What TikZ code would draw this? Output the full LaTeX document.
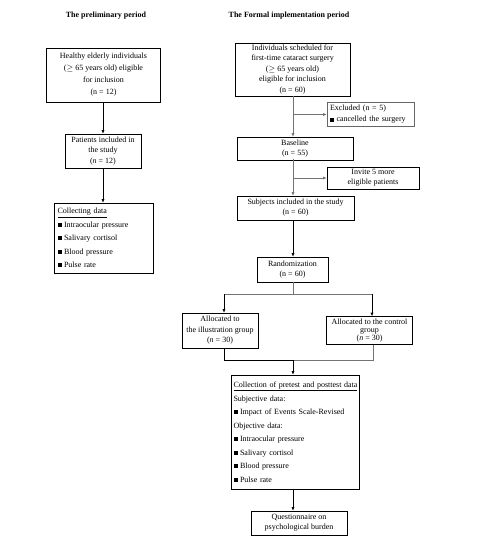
\documentclass[tikz,border=0pt]{standalone}
\usepackage{fontspec}
\setmainfont{Liberation Serif}
\usetikzlibrary{arrows.meta}
\newcommand{\sq}{\rule[0.3pt]{4pt}{4pt}\hspace{2.5pt}}
\begin{document}
\begin{tikzpicture}[x=1pt,y=-1pt,
  box/.style={draw=black, line width=0.6pt, inner sep=0pt, align=center,
    font=\fontsize{8}{12}\selectfont},
  lbox/.style={draw=black, line width=0.6pt, inner xsep=3pt, inner ysep=0pt, align=left,
    font=\fontsize{8}{13.5}\selectfont},
  ttl/.style={font=\fontsize{8}{9}\selectfont\bfseries},
  con/.style={line width=0.6pt, draw=black},
  gcon/.style={line width=0.6pt, draw=black!55},
  arr/.style={-{Latex[length=3.5pt,width=3pt]}}]
\useasboundingbox (0,0) rectangle (487,545);
\node[ttl] (t1) at (106,16) {The preliminary period};
\node[ttl] (t2) at (289,16) {The Formal implementation period};
% left column
\node[box, minimum width=114, minimum height=54] (L1) at (103.5,75)
  {Healthy elderly individuals\\ ({$\geq$} 65 years old) eligible\\ for inclusion\\ (n = 12)};
\node[box, minimum width=76, minimum height=34, font=\fontsize{8}{10.5}\selectfont] (L2) at (103,151)
  {Patients included in\\ the study\\ (\textit{n} = 12)};
\node[lbox, text width=93, minimum height=70] (L3) at (104,238)
  {\underline{Collecting data}\\ \sq Intraocular pressure\\ \sq Salivary cortisol\\ \sq Blood pressure\\ \sq Pulse rate};
\coordinate (lx) at (103,0);
\draw[con, arr] (L1.south -| lx) -- (L2.north -| lx);
\draw[con, arr] (L2.south -| lx) -- (L3.north -| lx);
% right column
\node[box, minimum width=115, minimum height=53, font=\fontsize{8}{10.5}\selectfont] (R1) at (292.5,69.5)
  {Individuals scheduled for\\ first-time cataract surgery\\ ({$\geq$} 65 years old)\\ eligible for inclusion\\ (n = 60)};
\node[lbox, draw=black!60, text width=81, minimum height=24, font=\fontsize{8}{11}\selectfont] (Ex) at (370.5,114.5)
  {Excluded (n = 5)\\ \sq cancelled the surgery};
\node[box, minimum width=116, minimum height=23, font=\fontsize{8}{10}\selectfont] (Base) at (295,148.5)
  {Baseline\\ (n = 55)};
\node[box, minimum width=92, minimum height=22, font=\fontsize{8}{10}\selectfont] (Inv) at (373,178)
  {Invite 5 more\\ eligible patients};
\node[box, minimum width=117, minimum height=24, font=\fontsize{8}{10}\selectfont] (Subj) at (295.5,208)
  {Subjects included in the study\\ (n = 60)};
\node[box, minimum width=71, minimum height=25, font=\fontsize{8}{10}\selectfont] (Rand) at (292.5,269.5)
  {Randomization\\ (n = 60)};
\node[box, minimum width=76, minimum height=35, font=\fontsize{8}{10.5}\selectfont] (AL) at (220,330.5)
  {Allocated to\\ the illustration group\\ (\textit{n} = 30)};
\node[box, minimum width=86, minimum height=28, font=\fontsize{8}{8.3}\selectfont] (AR) at (369.5,330.5)
  {Allocated to the control\\ group\\ (\textit{n} = 30)};
\node[lbox, inner xsep=2.5pt, text width=123, minimum height=114] (Col) at (295,432)
  {\underline{Collection of pretest and posttest data}\\ Subjective data:\\ \sq Impact of Events Scale-Revised\\ Objective data:\\ \sq Intraocular pressure\\ \sq Salivary cortisol\\ \sq Blood pressure\\ \sq Pulse rate};
\node[box, minimum width=96, minimum height=24, font=\fontsize{8}{10}\selectfont] (Q) at (299,523)
  {Questionnaire on\\ psychological burden};
\coordinate (sp) at (293,96);
\draw[gcon, arr] (sp) -- (sp |- Base.north);
\draw[gcon, arr] (sp |- Ex.west) -- (Ex.west);
\coordinate (sp2) at (293,159);
\draw[gcon, arr] (sp2) -- (sp2 |- Subj.north);
\draw[gcon, arr] (sp2 |- Inv.west) -- (Inv.west);
\draw[con, arr] (Subj.south -| sp) -- (Rand.north -| sp);
\coordinate (s1) at (224,294);
\coordinate (s2) at (372,294);
\coordinate (m) at (293,294);
\draw[gcon] (Rand.south -| m) -- (m);
\draw[gcon] (s1) -- (s2);
\draw[con, arr] (s1) -- (s1 |- AL.north);
\draw[con, arr] (s2) -- (s2 |- AR.north);
\coordinate (j1) at (224,360);
\coordinate (j2) at (373,360);
\coordinate (jm) at (293,360);
\draw[con] (AL.south -| j1) -- (j1) -- (jm);
\draw[gcon] (jm) -- (j2) -- (AR.south -| j2);
\draw[con, arr] (jm) -- (Col.north -| jm);
\draw[con, arr] (Col.south -| jm) -- (Q.north -| jm);
\end{tikzpicture}
\end{document}
